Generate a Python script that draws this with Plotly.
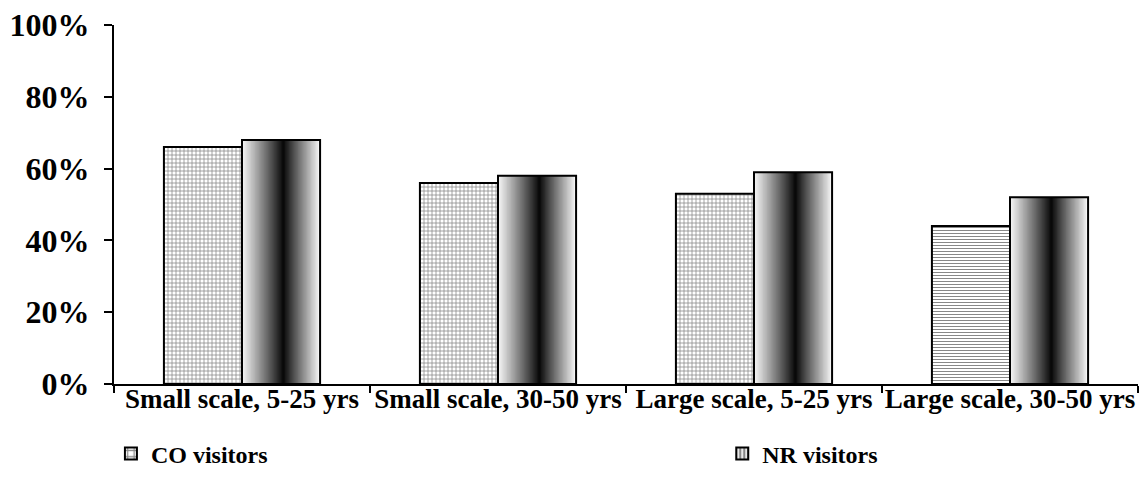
import plotly.graph_objects as go

# Survey shares by scenario
categories = ["Small scale, 5-25 yrs", "Small scale, 30-50 yrs",
              "Large scale, 5-25 yrs", "Large scale, 30-50 yrs"]
co_visitors = [66, 56, 53, 44]
nr_visitors = [68, 58, 59, 52]
y_ticks = [0, 20, 40, 60, 80, 100]
y_tick_labels = ["0%", "20%", "40%", "60%", "80%", "100%"]

FONT = "Liberation Serif"
BAR_W = 0.305          # width of one bar, in category units
N_SLICES = 60          # strips used to shade the NR bars


def strip_gray(frac):
    """Gray level of the cylinder-like shading across an NR bar."""
    c = 0.53
    d = abs(frac - c) / (c if frac < c else 1 - c)
    g = int(round(6 + 242 * d ** 0.95))
    return f"rgb({g},{g},{g})"


legend_font = dict(family=FONT, size=24, weight="bold", color="black")

fig = go.Figure()

# CO visitors: grid / line hatching
fig.add_trace(go.Bar(
    x=categories, y=co_visitors, name="CO visitors",
    offset=-BAR_W, width=BAR_W,
    marker=dict(
        color="white",
        line=dict(color="black", width=2),
        pattern=dict(shape=["+", "+", "+", "-"], fgcolor="#111111",
                     bgcolor="white", size=[4, 4, 4, 3], solidity=0.35,
                     fillmode="overlay"),
    ),
    legend="legend",
    hoverinfo="skip",
))

# NR visitors legend entry
fig.add_trace(go.Bar(
    x=categories, y=nr_visitors, name="NR visitors",
    offset=0, width=0,
    marker=dict(
        color="#9a9a9a",
        line=dict(color="black", width=2),
        pattern=dict(shape="|", fgcolor="#111111", bgcolor="#e8e8e8",
                     size=5, solidity=0.45),
    ),
    legend="legend2",
    hoverinfo="skip",
))

# NR visitors: shaded strips, each running to the right edge of the bar
for i in range(N_SLICES):
    start = i / N_SLICES
    fig.add_trace(go.Bar(
        x=categories, y=nr_visitors,
        offset=BAR_W * start, width=BAR_W * (1 - start),
        marker=dict(color=strip_gray((i + 0.5) / N_SLICES), line=dict(width=0)),
        showlegend=False, hoverinfo="skip",
    ))

# NR visitors outline
fig.add_trace(go.Bar(
    x=categories, y=nr_visitors,
    offset=0, width=BAR_W,
    marker=dict(color="rgba(0,0,0,0)", line=dict(color="black", width=2)),
    showlegend=False, hoverinfo="skip",
))

fig.update_layout(
    width=1139, height=495,
    barmode="overlay",
    plot_bgcolor="white", paper_bgcolor="white",
    margin=dict(l=114, r=1, t=25, b=111, autoexpand=False),
    font=dict(family=FONT, color="black"),
    showlegend=True,
    legend=dict(
        orientation="h", x=-0.003, xanchor="left",
        y=-0.195, yanchor="middle", font=legend_font,
        bgcolor="rgba(0,0,0,0)",
    ),
    legend2=dict(
        orientation="h", x=0.594, xanchor="left",
        y=-0.195, yanchor="middle", font=legend_font,
        bgcolor="rgba(0,0,0,0)",
    ),
)

fig.update_xaxes(
    type="category",
    automargin=False,
    tickangle=0,
    showline=True, linecolor="black", linewidth=2,
    ticks="outside", ticklen=7, tickwidth=2, tickcolor="black",
    tickson="boundaries",
    ticklabelstandoff=-10,
    showgrid=False, zeroline=False,
    tickfont=dict(family=FONT, size=27, weight="bold", color="black"),
)

fig.update_yaxes(
    range=[0, 100],
    automargin=False,
    tickvals=y_ticks, ticktext=y_tick_labels,
    showline=True, linecolor="black", linewidth=2,
    ticks="outside", ticklen=8, tickwidth=2, tickcolor="black",
    showgrid=False, zeroline=False,
    ticklabelstandoff=8,
    tickfont=dict(family=FONT, size=32, weight="bold", color="black"),
)

fig.write_html("out.html")
